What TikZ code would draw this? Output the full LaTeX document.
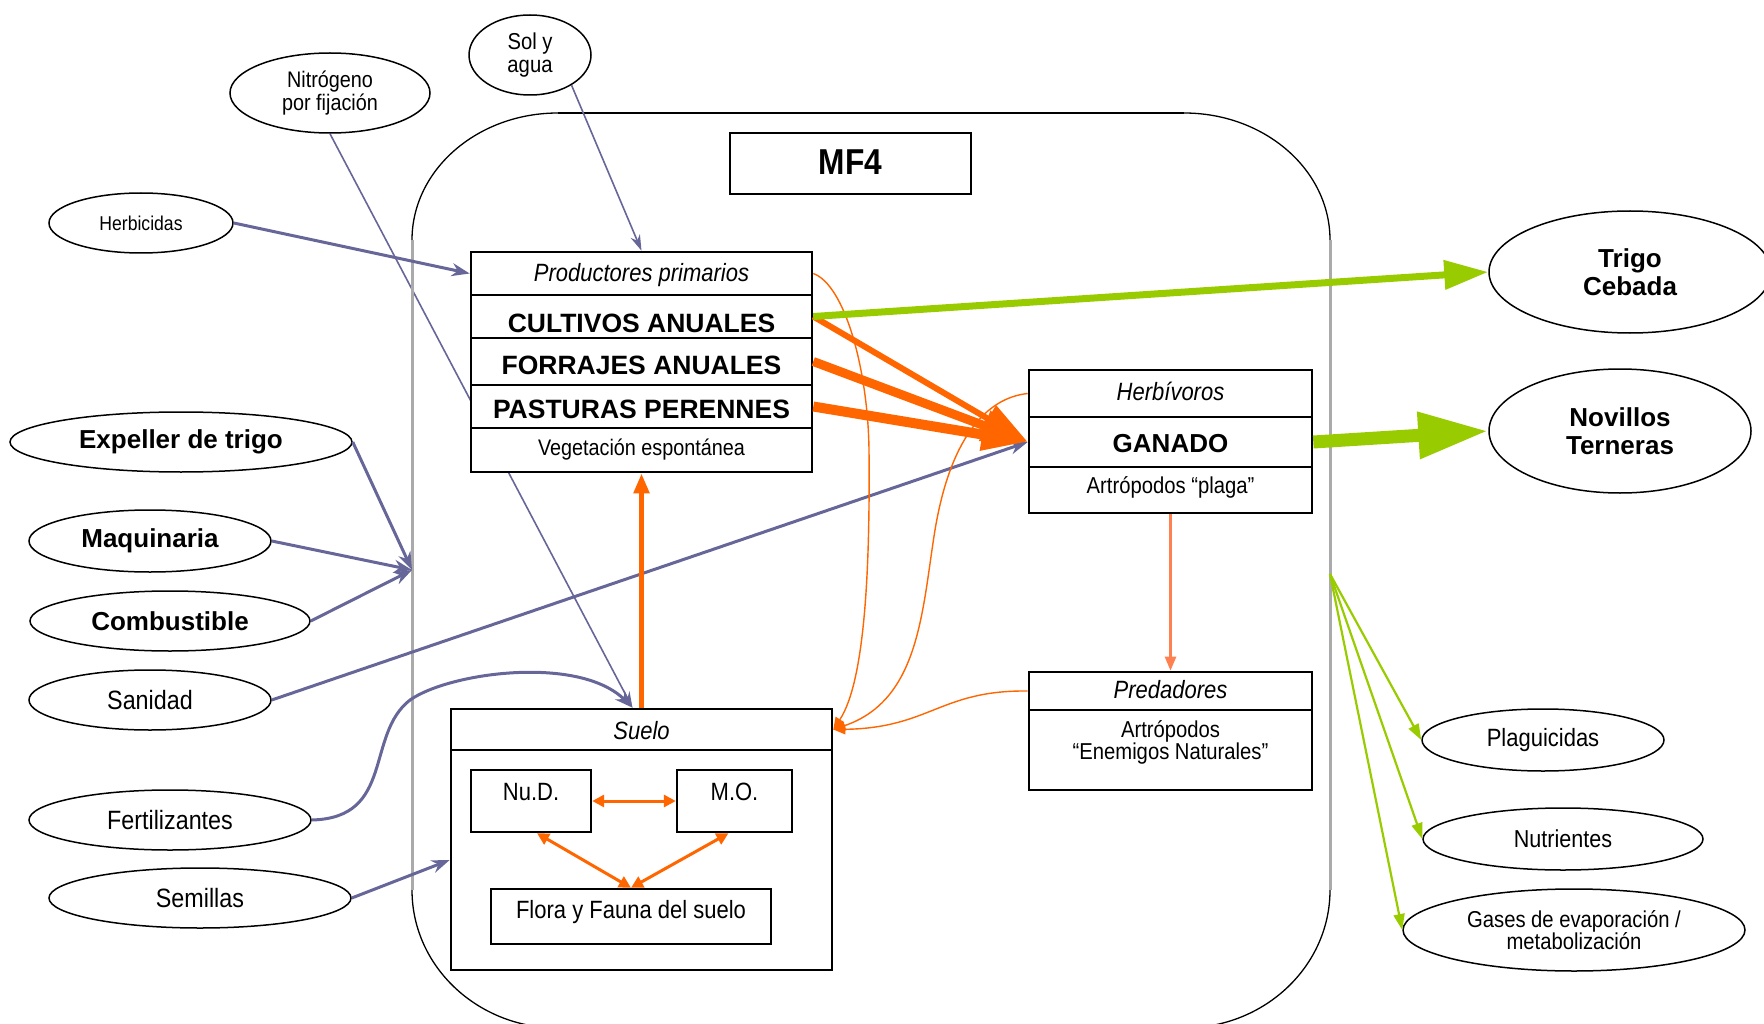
\documentclass[tikz,border=0pt]{standalone}
\usepackage{fontspec}
\setmainfont{Liberation Sans}
\newfontfamily\nar[FakeStretch=0.88]{Liberation Sans}
\usetikzlibrary{shapes.geometric,arrows.meta}
\pgfdeclarelayer{background}
\pgfsetlayers{background,main}
\definecolor{flowblue}{RGB}{102,102,153}
\definecolor{flowor}{RGB}{255,102,0}
\definecolor{flowlor}{RGB}{255,128,80}
\definecolor{flowgr}{RGB}{153,204,0}
\definecolor{rimgray}{RGB}{170,170,170}
\newcommand\fsz[2]{\fontsize{#1}{#2}\selectfont}

\begin{document}
\begin{tikzpicture}[x=1pt,y=-1pt,
  nt/.style={font=\nar\fsz{#1}{22}},
  nti/.style={font=\nar\itshape\fsz{#1}{22}},
  bt/.style={font=\bfseries\fsz{#1}{28}},
  oval/.style={ellipse, draw, line width=1.5pt, inner sep=0pt, align=center, fill=white},
  cell/.style={rectangle, draw, line width=2.6pt, inner sep=0pt, fill=white},
  inbox/.style={rectangle, draw, line width=2.4pt, inner sep=0pt, fill=white},
  inflow/.style={flowblue, line width=3pt, -{Stealth[length=18pt,width=13pt]}},
  thinflow/.style={flowblue, line width=1.6pt, -{Stealth[length=16pt,width=10pt]}},
  feed/.style={flowor, line width=#1, -{Triangle[length=46pt,width=30pt]}},
  recyc/.style={flowor, line width=1.4pt, -{Triangle[length=12pt,width=10pt]}},
  soilx/.style={flowor, line width=3pt, {Triangle[length=12pt,width=12pt]}-{Triangle[length=12pt,width=12pt]}},
  loss/.style={flowgr, line width=2.2pt, -{Triangle[length=16pt,width=11pt]}}
]
\useasboundingbox (0,0) rectangle (1764,1024);

% system boundary (rounded frame)
\draw[line width=1.3pt]
  (412,240) arc[start angle=180,end angle=270,x radius=146,y radius=127]
  (1184,113) arc[start angle=270,end angle=360,x radius=146,y radius=127]
  (1330,890) arc[start angle=0,end angle=90,x radius=146,y radius=138]
  (412,890) arc[start angle=180,end angle=90,x radius=146,y radius=138];
\draw[line width=2.6pt] (558,113) -- (1184,113);
\draw[rimgray, line width=3pt] (412,240) -- (412,890) (1330,240) -- (1330,890);

\coordinate (inlet) at (412,570);
\coordinate (outlet) at (1330,574);

% title
\node[inbox, line width=2.6pt, minimum width=241pt, minimum height=61pt] (mf) at (850.5,163.5) {};
\node[anchor=base, font=\nar\bfseries\fsz{36}{36}] (mfT) at (850.5,175) {MF4};

% external inputs
\node[oval, minimum width=184pt, minimum height=60pt, nt=20] (herb) at (141,223) {Herbicidas};
\node[oval, minimum width=200pt, minimum height=80pt, font=\nar\fsz{22.5}{20}] (nit) at (330,93) {Nitrógeno\\por fijación};
\node[oval, minimum width=122pt, minimum height=80pt, font=\nar\fsz{23}{23}] (sol) at (530,55) {Sol y\\agua};
\node[oval, minimum width=342pt, minimum height=60pt, bt=26] (exp) at (181,442) {Expeller de trigo};
\node[oval, minimum width=242pt, minimum height=62pt, bt=26] (maq) at (150,541) {Maquinaria};
\node[oval, minimum width=280pt, minimum height=60pt, bt=26] (comb) at (170,621) {Combustible};
\node[oval, minimum width=242pt, minimum height=60pt, nt=26.5] (san) at (150,700) {Sanidad};
\node[oval, minimum width=282pt, minimum height=60pt, nt=26.5] (fert) at (170,820) {Fertilizantes};
\node[oval, minimum width=302pt, minimum height=60pt, nt=26.5] (sem) at (200,898) {Semillas};

% products and losses
\node[oval, minimum width=282pt, minimum height=122pt, font=\bfseries\fsz{26}{28}] (trigo) at (1630,272) {Trigo\\Cebada};
\node[oval, minimum width=262pt, minimum height=124pt, font=\bfseries\fsz{26}{28}] (nov) at (1620,431) {Novillos\\Terneras};
\node[oval, minimum width=242pt, minimum height=62pt, nt=25] (plag) at (1543,740) {Plaguicidas};
\node[oval, minimum width=280pt, minimum height=62pt, nt=24.5] (nut) at (1563,839) {Nutrientes};
\node[oval, minimum width=342pt, minimum height=82pt, font=\nar\fsz{23}{22}] (gas) at (1574,930) {Gases de evaporación /\\metabolización};

% primary producers
\node[cell, minimum width=341pt, minimum height=43pt] (pp) at (641.5,273.5) {};
\node[cell, minimum width=341pt, minimum height=43pt] (cult) at (641.5,316.5) {};
\node[cell, minimum width=341pt, minimum height=47pt] (forr) at (641.5,361.5) {};
\node[cell, minimum width=341pt, minimum height=43pt] (past) at (641.5,406.5) {};
\node[cell, minimum width=341pt, minimum height=44pt] (veg) at (641.5,450) {};
\node[anchor=base, nti=25] (ppT) at (641.5,282) {Productores primarios};
\node[anchor=base, bt=26.5] (cultT) at (641.5,332) {CULTIVOS ANUALES};
\node[anchor=base, bt=26.5] (forrT) at (641.5,374) {FORRAJES ANUALES};
\node[anchor=base, bt=26.5] (pastT) at (641.5,418) {PASTURAS PERENNES};
\node[anchor=base, nt=22.5] (vegT) at (641.5,455) {Vegetación espontánea};

% herbivores
\node[cell, minimum width=283pt, minimum height=47pt] (hA) at (1170.5,393.5) {};
\node[cell, minimum width=283pt, minimum height=50pt] (gan) at (1170.5,442) {};
\node[cell, minimum width=283pt, minimum height=46pt] (hC) at (1170.5,490) {};
\node[anchor=base, nti=25] (hAT) at (1170.5,400) {Herbívoros};
\node[anchor=base, bt=26] (ganT) at (1170.5,452) {GANADO};
\node[anchor=base, nt=23] (hCT) at (1170.5,493) {Artrópodos “plaga”};

% predators
\node[cell, minimum width=283pt, minimum height=38pt] (prA) at (1170.5,691) {};
\node[cell, minimum width=283pt, minimum height=80pt] (prB) at (1170.5,750) {};
\node[anchor=base, nti=25] (prAT) at (1170.5,698) {Predadores};
\node[align=center, font=\nar\fsz{23}{22}] (prBT) at (1170.5,742) {Artrópodos\\“Enemigos Naturales”};

% soil
\node[cell, minimum width=381pt, minimum height=41pt] (suA) at (641.5,729.5) {};
\node[cell, minimum width=381pt, minimum height=220pt] (suB) at (641.5,860) {};
\node[anchor=base, nti=25] (suAT) at (641.5,739) {Suelo};
\node[inbox, minimum width=120pt, minimum height=62pt] (nud) at (531,801) {};
\node[inbox, minimum width=115pt, minimum height=62pt] (mo) at (734.5,801) {};
\node[inbox, minimum width=280pt, minimum height=55pt] (flora) at (631,916.5) {};
\node[anchor=base, nt=25] (nudT) at (531,800) {Nu.D.};
\node[anchor=base, nt=25] (moT) at (734.5,800) {M.O.};
\node[anchor=base, nt=25] (floraT) at (631,918) {Flora y Fauna del suelo};

% fixed nitrogen passes behind the producers block
\begin{pgfonlayer}{background}
\draw[thinflow] (nit.south) -- ([xshift=-9pt]suA.north);
\end{pgfonlayer}

% inputs
\draw[inflow] (herb.east) -- (pp.west);
\draw[thinflow] (sol.-36) -- (pp.north);
\draw[inflow] (exp.east) -- (inlet);
\draw[inflow] (maq.east) -- (inlet);
\draw[inflow] (comb.east) -- (inlet);
\draw[inflow] (san.east) -- (gan.west);
\draw[inflow] (sem.east) -- (suB.west);
\draw[inflow] (fert.east) .. controls (395,818) and (365,735) .. (410,700)
  .. controls (450,672) and (580,655) .. ([xshift=-9pt]suA.north);

% feeding of livestock
\draw[feed=6pt] (cult.east) -- (gan.west);
\draw[feed=9pt] (forr.east) -- (gan.west);
\draw[feed=10pt] (past.east) -- (gan.west);

% soil supports producers
\draw[flowor, line width=5pt, -{Triangle[length=20pt,width=15pt]}] (suA.north) -- (veg.south);

% returns to soil
\draw[recyc] (pp.east) .. controls (845,285) and (868,370) .. (869,450)
  .. controls (870,560) and (866,680) .. (suA.east);
\draw[recyc] (hA.west) .. controls (985,398) and (950,440) .. (935,530)
  .. controls (922,610) and (920,700) .. (suA.east);
\draw[recyc] (prA.west) .. controls (940,690) and (930,728) .. (suA.east);
\draw[flowlor, line width=2.5pt, -{Triangle[length=14pt,width=11pt]}] (hC.south) -- (prA.north);

% soil internal exchanges
\draw[soilx] (nud.east) -- (mo.west);
\draw[soilx] ([xshift=6pt]nud.south) -- (flora.north);
\draw[soilx] ([xshift=-6pt]mo.south) -- (flora.north);

% products
\draw[flowgr, line width=7pt, -{Triangle[length=44pt,width=28pt]}] (cult.east) -- (trigo.west);
\draw[flowgr, line width=13pt, -{Triangle[length=70pt,width=44pt]}] (gan.east) -- (nov.west);

% losses
\draw[loss] (outlet) -- (plag.west);
\draw[loss] (outlet) -- (nut.west);
\draw[loss] (outlet) -- (gas.west);
\end{tikzpicture}
\end{document}
